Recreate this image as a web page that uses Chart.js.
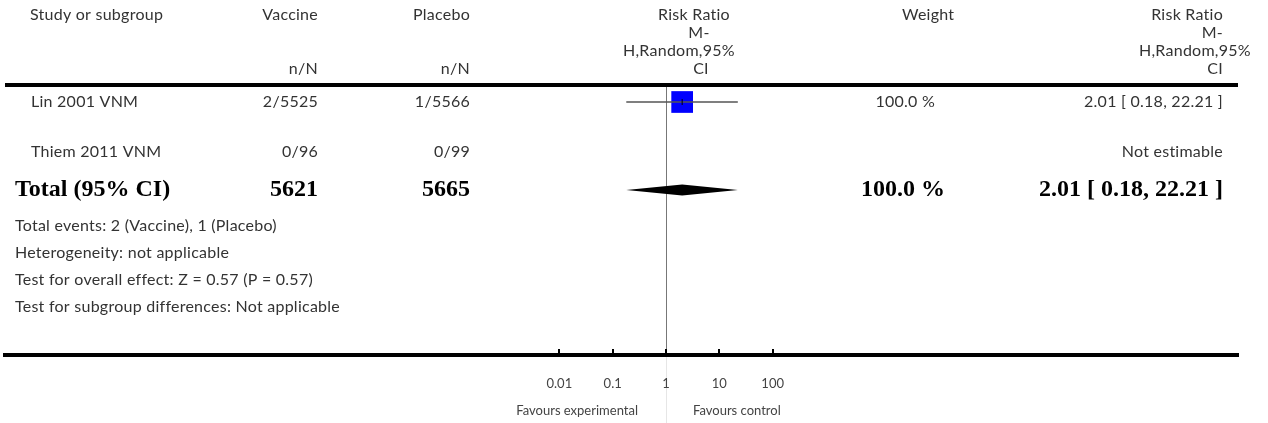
<!DOCTYPE html>
<html>
<head>
<meta charset="utf-8">
<script src="https://cdn.jsdelivr.net/npm/chart.js@4.4.1/dist/chart.umd.min.js"></script>
<style>
  html, body { margin: 0; padding: 0; background: #fff; }
  #wrap { width: 1268px; height: 423px; position: relative; }
</style>
</head>
<body>
<div id="wrap"><canvas id="forest" width="1268" height="423"></canvas></div>
<script>
// ---- Study data ----
const studies        = ['Lin 2001 VNM', 'Thiem 2011 VNM'];
const vaccineNN      = ['2/5525', '0/96'];
const placeboNN      = ['1/5566', '0/99'];
const studyRR        = [2.01, null];
const studyLo        = [0.18, null];
const studyHi        = [22.21, null];
const studyWeight    = [100.0, null];
const studyCIText    = ['2.01 [ 0.18, 22.21 ]', 'Not estimable'];

// ---- Pooled estimate ----
const totalLabel     = 'Total (95% CI)';
const totalN         = [5621, 5665];           // vaccine, placebo
const totalRR        = [2.01];
const totalLo        = [0.18];
const totalHi        = [22.21];
const totalWeight    = [100.0];
const totalCIText    = ['2.01 [ 0.18, 22.21 ]'];

const footnotes = [
  'Total events: 2 (Vaccine), 1 (Placebo)',
  'Heterogeneity: not applicable',
  'Test for overall effect: Z = 0.57 (P = 0.57)',
  'Test for subgroup differences: Not applicable'
];

// ---- Axis ----
const tickValues = [0.01, 0.1, 1, 10, 100];
const tickLabels = ['0.01', '0.1', '1', '10', '100'];
const favourLabels = ['Favours experimental', 'Favours control'];

// ---- Layout (pixels) ----
const PLOT_LEFT = 5, PLOT_RIGHT = 1238, RULE_TOP = 85, AXIS_BAND = 68;
const NULL_X = 666, DECADE_PX = 53.33;
const rowPos  = [17, 67, 105];          // study 1, study 2, total (below header rule)
const footPos = [141, 168, 195, 222];   // footnote lines (below header rule)
const REG_FONT  = '16px Lato';
const BOLD_FONT = 'bold 24px "Liberation Serif"';
const TEXT_COLOR = '#333';

const xMin = Math.pow(10, (PLOT_LEFT - NULL_X) / DECADE_PX);
const xMax = Math.pow(10, (PLOT_RIGHT - NULL_X) / DECADE_PX);
const yMax = 423 - AXIS_BAND - RULE_TOP;

// whiskers for every estimable study
const whiskerSets = studies.map((s, i) => studyLo[i] == null ? null : ({
  type: 'line', showLine: true, order: 1,
  data: [{x: studyLo[i], y: rowPos[i]}, {x: studyHi[i], y: rowPos[i]}],
  borderColor: '#555', borderWidth: 1.5, pointRadius: 0
})).filter(Boolean);

const squarePts = studies.map((s, i) => studyRR[i] == null ? null : {x: studyRR[i], y: rowPos[i], w: studyWeight[i]}).filter(Boolean);

const forestPlugin = {
  id: 'forestLayer',
  beforeDraw(chart) {
    // faint continuation of the null line through the axis labels
    const {ctx, chartArea: a, scales: {x}} = chart;
    const px = Math.round(x.getPixelForValue(1)) + 0.5;
    ctx.save();
    ctx.strokeStyle = '#e6e6e6'; ctx.lineWidth = 1;
    ctx.beginPath(); ctx.moveTo(px, a.bottom); ctx.lineTo(px, chart.height); ctx.stroke();
    ctx.restore();
  },
  beforeDatasetsDraw(chart) {
    const {ctx, chartArea: a, scales: {x}} = chart;
    const px = Math.round(x.getPixelForValue(1)) + 0.5;
    ctx.save();
    // line of no effect
    ctx.strokeStyle = '#777'; ctx.lineWidth = 1;
    ctx.beginPath(); ctx.moveTo(px, a.top); ctx.lineTo(px, a.bottom); ctx.stroke();
    ctx.restore();
  },
  afterDatasetsDraw(chart) {
    const {ctx, chartArea: a, scales: {x, y}} = chart;
    ctx.save();
    // header rule
    ctx.fillStyle = '#000';
    ctx.fillRect(a.left, a.top - 2, a.right - a.left, 4);
    // upward tick marks on the axis
    tickValues.forEach(v => {
      const tx = Math.round(x.getPixelForValue(v));
      ctx.fillRect(tx - 1, a.bottom - 6, 2, 6);
    });
    // pooled diamond
    const cy = y.getPixelForValue(rowPos[2]);
    ctx.beginPath();
    ctx.moveTo(x.getPixelForValue(totalLo[0]), cy);
    ctx.lineTo(x.getPixelForValue(totalRR[0]), cy - 5.5);
    ctx.lineTo(x.getPixelForValue(totalHi[0]), cy);
    ctx.lineTo(x.getPixelForValue(totalRR[0]), cy + 5.5);
    ctx.closePath();
    ctx.fill();
    ctx.restore();
  },
  afterDraw(chart) {
    const {ctx, scales: {x, y}} = chart;
    const text = (t, tx, ty, align, font, color) => {
      ctx.font = font || REG_FONT;
      ctx.letterSpacing = font ? '0px' : '0.25px';
      ctx.fillStyle = color || TEXT_COLOR;
      ctx.textAlign = align || 'left';
      ctx.textBaseline = 'middle';
      ctx.fillText(t, tx, ty);
    };
    ctx.save();
    // column headers
    text('Study or subgroup', 30, 15);
    text('Vaccine', 318, 15, 'right');
    text('n/N', 318, 69, 'right');
    text('Placebo', 470, 15, 'right');
    text('n/N', 470, 69, 'right');
    text('Risk Ratio', 694, 15, 'center');
    text('M-', 699, 33, 'center');
    text('H,Random,95%', 623, 51);
    text('CI', 701, 69, 'center');
    text('Weight', 902, 15);
    text('Risk Ratio', 1223, 15, 'right');
    text('M-', 1223, 33, 'right');
    text('H,Random,95%', 1139, 51);
    text('CI', 1223, 69, 'right');

    // study rows
    studies.forEach((s, i) => {
      const ry = y.getPixelForValue(rowPos[i]);
      text(s, 31, ry);
      text(vaccineNN[i], 318, ry, 'right');
      text(placeboNN[i], 470, ry, 'right');
      if (studyWeight[i] != null) text(studyWeight[i].toFixed(1) + ' %', 935, ry, 'right');
      text(studyCIText[i], 1223, ry, 'right');
    });

    // total row
    const ty = y.getPixelForValue(rowPos[2]);
    text(totalLabel, 15, ty, 'left', BOLD_FONT, '#000');
    text(String(totalN[0]), 318, ty, 'right', BOLD_FONT, '#000');
    text(String(totalN[1]), 470, ty, 'right', BOLD_FONT, '#000');
    text(totalWeight[0].toFixed(1) + ' %', 945, ty, 'right', BOLD_FONT, '#000');
    text(totalCIText[0], 1223, ty, 'right', BOLD_FONT, '#000');

    // footnotes
    footnotes.forEach((f, i) => text(f, 15, y.getPixelForValue(footPos[i])));

    // favours labels
    const nx = x.getPixelForValue(1);
    text(favourLabels[0], nx - 28, 411, 'right', '13px Lato', '#444');
    text(favourLabels[1], nx + 27, 411, 'left', '13px Lato', '#444');
    ctx.restore();
  }
};

new Chart(document.getElementById('forest'), {
  type: 'scatter',
  data: {
    datasets: [
      ...whiskerSets,
      { // point estimate marks
        order: 0,
        data: squarePts,
        pointStyle: 'line', rotation: 90, pointRadius: 3,
        borderColor: '#000', borderWidth: 1
      },
      { // study weight squares
        order: 3,
        data: squarePts,
        pointStyle: 'rect',
        pointRadius: ctx => 15.35 * Math.sqrt((ctx.raw ? ctx.raw.w : 100) / 100),
        backgroundColor: '#0000ff', borderColor: '#0000ff', borderWidth: 0
      }
    ]
  },
  options: {
    responsive: false,
    animation: false,
    events: [],
    layout: {
      autoPadding: false,
      padding: { left: PLOT_LEFT, right: 1268 - PLOT_RIGHT, top: RULE_TOP, bottom: 0 }
    },
    plugins: { legend: { display: false }, tooltip: { enabled: false } },
    scales: {
      x: {
        type: 'logarithmic', position: 'bottom', min: xMin, max: xMax,
        grid: { display: false },
        border: { display: true, color: '#000', width: 4 },
        ticks: {
          autoSkip: false, maxRotation: 0, padding: 13,
          color: '#444', font: { family: 'Lato', size: 13 },
          callback: (v, i) => tickLabels[i]
        },
        afterBuildTicks: s => { s.ticks = tickValues.map(v => ({ value: v })); },
        afterFit: s => { s.height = AXIS_BAND; s.paddingLeft = 0; s.paddingRight = 0; }
      },
      y: { type: 'linear', min: 0, max: yMax, reverse: true, display: false }
    }
  },
  plugins: [forestPlugin]
});
</script>
</body>
</html>
